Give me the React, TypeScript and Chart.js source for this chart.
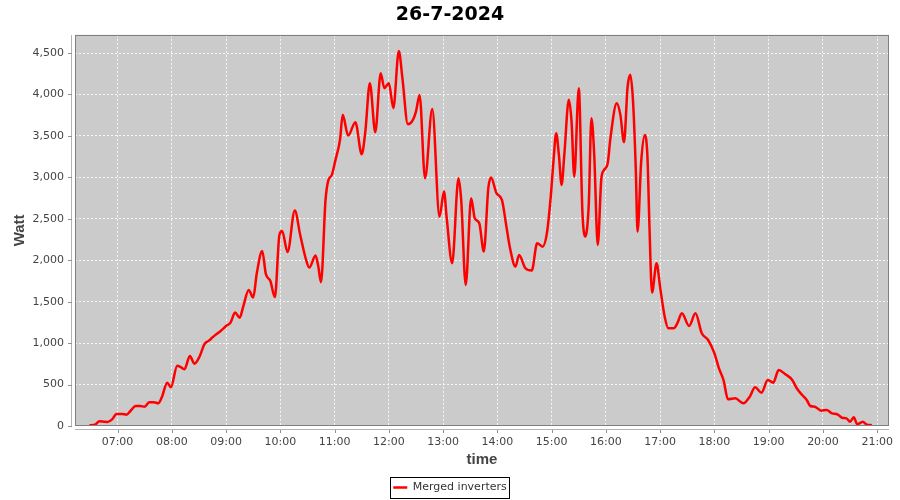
import React, { useEffect, useRef } from "react";
import { Chart, registerables } from "chart.js";

Chart.register(...registerables);

const chartTitle = "26-7-2024";
const seriesName = "Merged inverters";
const xAxisTitle = "time";
const yAxisTitle = "Watt";

const times = [
  "06:29", "06:35", "06:40", "06:45", "06:49", "06:54", "06:59", "07:05", "07:10", "07:15",
  "07:20", "07:25", "07:30", "07:35", "07:40", "07:45", "07:49", "07:55", "07:59", "08:06",
  "08:09", "08:14", "08:20", "08:25", "08:31", "08:36", "08:41", "08:46", "08:54", "09:01",
  "09:05", "09:10", "09:15", "09:19", "09:25", "09:30", "09:34", "09:40", "09:44", "09:49",
  "09:54", "09:59", "10:02", "10:08", "10:16", "10:22", "10:28", "10:32", "10:39", "10:42",
  "10:45", "10:50", "10:53", "10:57", "11:01", "11:06", "11:09", "11:15", "11:23", "11:30",
  "11:34", "11:39", "11:45", "11:51", "11:55", "12:00", "12:05", "12:11", "12:15", "12:21",
  "12:26", "12:30", "12:34", "12:40", "12:48", "12:56", "13:01", "13:04", "13:10", "13:17",
  "13:20", "13:25", "13:31", "13:35", "13:40", "13:45", "13:50", "13:53", "13:59", "14:05",
  "14:10", "14:14", "14:20", "14:24", "14:31", "14:38", "14:44", "14:50", "14:55", "14:59",
  "15:02", "15:05", "15:08", "15:11", "15:14", "15:19", "15:22", "15:25", "15:30", "15:34",
  "15:37", "15:41", "15:44", "15:47", "15:51", "15:55", "15:58", "16:02", "16:05", "16:12",
  "16:16", "16:20", "16:24", "16:27", "16:30", "16:33", "16:35", "16:39", "16:43", "16:46",
  "16:48", "16:51", "16:56", "17:00", "17:05", "17:09", "17:15", "17:19", "17:24", "17:32",
  "17:39", "17:46", "17:53", "18:00", "18:05", "18:10", "18:15", "18:23", "18:32", "18:39",
  "18:45", "18:52", "18:59", "19:05", "19:11", "19:18", "19:26", "19:31", "19:37", "19:42",
  "19:46", "19:51", "19:58", "20:04", "20:10", "20:16", "20:21", "20:26", "20:30", "20:34",
  "20:38", "20:44", "20:48", "20:54",
];

const watts = [
  8, 16, 57, 52, 48, 80, 145, 145, 137, 190,
  241, 241, 233, 286, 286, 274, 346, 523, 467, 728,
  716, 684, 845, 752, 845, 986, 1030, 1078, 1147, 1215,
  1247, 1368, 1307, 1440, 1642, 1549, 1843, 2112, 1835, 1750,
  1555, 2305, 2354, 2100, 2599, 2305, 2024, 1911, 2056, 1923,
  1735, 2728, 2960, 3030, 3211, 3452, 3754, 3504, 3666, 3279,
  3552, 4136, 3545, 4257, 4076, 4136, 3835, 4526, 4197, 3641,
  3681, 3794, 3995, 2990, 3826, 2526, 2828, 2507, 1964, 2990,
  2728, 1702, 2748, 2507, 2446, 2104, 2869, 2997, 2809, 2728,
  2406, 2145, 1923, 2064, 1903, 1875, 2205, 2164, 2345, 2768,
  3190, 3533, 3271, 2909, 3271, 3935, 3673, 3008, 4076, 2587,
  2285, 2667, 3714, 3291, 2185, 2990, 3090, 3171, 3473, 3895,
  3754, 3424, 4095, 4237, 3914, 3110, 2345, 3190, 3512, 3231,
  2466, 1610, 1964, 1670, 1319, 1179, 1179, 1240, 1360, 1207,
  1360, 1119, 1038, 877, 696, 555, 322, 334, 274, 354,
  467, 402, 555, 523, 676, 628, 555, 455, 374, 314,
  241, 233, 185, 193, 153, 141, 100, 92, 52, 105,
  20, 52, 20, 8,
];

const xTickLabels = [
  "07:00", "08:00", "09:00", "10:00", "11:00", "12:00", "13:00", "14:00",
  "15:00", "16:00", "17:00", "18:00", "19:00", "20:00", "21:00",
];
const yTickValues = [0, 500, 1000, 1500, 2000, 2500, 3000, 3500, 4000, 4500];
const xStart = "06:13";
const xEnd = "21:13";
const yMax = 4720;

const toMin = (s: string) => {
  const [h, m] = s.split(":").map(Number);
  return h * 60 + m;
};
const fmtTime = (v: number) => {
  const h = Math.floor(v / 60);
  const m = Math.round(v - h * 60);
  return String(h).padStart(2, "0") + ":" + String(m).padStart(2, "0");
};

const framePlugin = {
  id: "frame",
  beforeDraw(chart: any) {
    const { ctx, chartArea: a } = chart;
    ctx.save();
    ctx.fillStyle = "#cbcbcb";
    ctx.fillRect(a.left, a.top, a.right - a.left, a.bottom - a.top);
    ctx.restore();
  },
  afterDraw(chart: any) {
    const { ctx, chartArea: a, scales } = chart;
    ctx.save();
    ctx.strokeStyle = "#808080";
    ctx.lineWidth = 1;
    const L = Math.round(a.left), T = Math.round(a.top), R = Math.round(a.right), B = Math.round(a.bottom);
    ctx.strokeRect(L + 0.5, T + 0.5, R - L - 1, B - T - 1);
    ctx.strokeStyle = "#b4b4b4";
    ctx.beginPath();
    ctx.moveTo(L - 3.5, T);
    ctx.lineTo(L - 3.5, B);
    ctx.moveTo(L, B + 3.5);
    ctx.lineTo(R, B + 3.5);
    ctx.stroke();
    ctx.strokeStyle = "#909090";
    ctx.beginPath();
    for (const v of yTickValues) {
      const y = Math.round(scales.y.getPixelForValue(v)) + 0.5;
      ctx.moveTo(L - 7, y);
      ctx.lineTo(L - 3, y);
    }
    for (const s of xTickLabels) {
      const x = Math.round(scales.x.getPixelForValue(toMin(s))) + 0.5;
      ctx.moveTo(x, B + 4);
      ctx.lineTo(x, B + 7);
    }
    ctx.stroke();
    const lg = chart.legend;
    if (lg && lg.legendHitBoxes && lg.legendHitBoxes.length) {
      const hb = lg.legendHitBoxes[0];
      const cy = hb.top + hb.height / 2;
      const x0 = Math.round(hb.left - 3) + 0.5;
      const x1 = Math.round(hb.left + hb.width + 2) + 0.5;
      const y0 = Math.round(cy - 10.5) + 0.5;
      ctx.strokeStyle = "#000000";
      ctx.strokeRect(x0, y0, x1 - x0, 21);
    }
    ctx.restore();
  },
};

export default function App() {
  const ref = useRef<HTMLCanvasElement | null>(null);

  useEffect(() => {
    if (!ref.current) return;
    const points = times.map((t, i) => ({ x: toMin(t), y: watts[i] }));
    const chart = new Chart(ref.current, {
      type: "line",
      data: {
        datasets: [
          {
            label: seriesName,
            data: points,
            borderColor: "#ff0000",
            backgroundColor: "#ff0000",
            borderWidth: 2.5,
            pointRadius: 0,
            fill: false,
            cubicInterpolationMode: "monotone",
          },
        ],
      },
      options: {
        animation: false,
        responsive: true,
        maintainAspectRatio: false,
        layout: { padding: { left: 0, right: 0, top: 0, bottom: -3 } },
        plugins: {
          title: {
            display: true,
            text: chartTitle,
            color: "#000000",
            font: { family: "'DejaVu Sans', sans-serif", size: 19, weight: "bold" },
            padding: { top: 4, bottom: 8 },
          },
          legend: {
            display: true,
            position: "bottom",
            labels: {
              usePointStyle: true,
              pointStyle: "line",
              pointStyleWidth: 14,
              color: "#333333",
              padding: 4,
              font: { family: "'DejaVu Sans', sans-serif", size: 11 },
            },
          },
          tooltip: { enabled: false },
        },
        scales: {
          x: {
            type: "linear",
            min: toMin(xStart),
            max: toMin(xEnd),
            afterBuildTicks: (scale: any) => {
              scale.ticks = xTickLabels.map((s) => ({ value: toMin(s) }));
            },
            afterFit: (scale: any) => {
              scale.height = 52;
              scale.paddingLeft = 0;
              scale.paddingRight = 0;
            },
            ticks: {
              autoSkip: false,
              maxRotation: 0,
              padding: 10,
              color: "#444444",
              font: { family: "'DejaVu Sans', sans-serif", size: 11 },
              callback: (v: any) => fmtTime(Number(v)),
            },
            grid: {
              color: "rgba(255,255,255,0.85)",
              lineWidth: 1,
              drawTicks: false,
            },
            border: { display: false, dash: [2, 2] },
            title: {
              display: true,
              text: xAxisTitle,
              color: "#444444",
              font: { family: "'Liberation Sans', sans-serif", size: 15, weight: "bold" },
              padding: { top: 0, bottom: 9 },
            },
          },
          y: {
            type: "linear",
            min: 0,
            max: yMax,
            afterBuildTicks: (scale: any) => {
              scale.ticks = yTickValues.map((v) => ({ value: v }));
            },
            afterFit: (scale: any) => {
              scale.width = 75;
              scale.paddingTop = 0;
              scale.paddingBottom = 0;
            },
            ticks: {
              padding: 11,
              color: "#444444",
              font: { family: "'DejaVu Sans', sans-serif", size: 11 },
              callback: (v: any) => Number(v).toLocaleString("en-US"),
            },
            grid: {
              color: "rgba(255,255,255,0.85)",
              lineWidth: 1,
              drawTicks: false,
            },
            border: { display: false, dash: [2, 2] },
            title: {
              display: true,
              text: yAxisTitle,
              color: "#444444",
              font: { family: "'Liberation Sans', sans-serif", size: 15, weight: "bold" },
              padding: { top: 11, bottom: 0 },
            },
          },
          yRight: {
            type: "linear",
            position: "right",
            display: true,
            grid: { display: false, drawTicks: false },
            ticks: { display: false },
            border: { display: false },
            afterFit: (scale: any) => {
              scale.width = 11;
              scale.paddingTop = 0;
              scale.paddingBottom = 0;
            },
          },
        },
      },
      plugins: [framePlugin],
    });
    return () => chart.destroy();
  }, []);

  return (
    <div style={{ position: "fixed", left: 0, top: 0, width: 900, height: 500, background: "#ffffff" }}>
      <canvas ref={ref} />
    </div>
  );
}
